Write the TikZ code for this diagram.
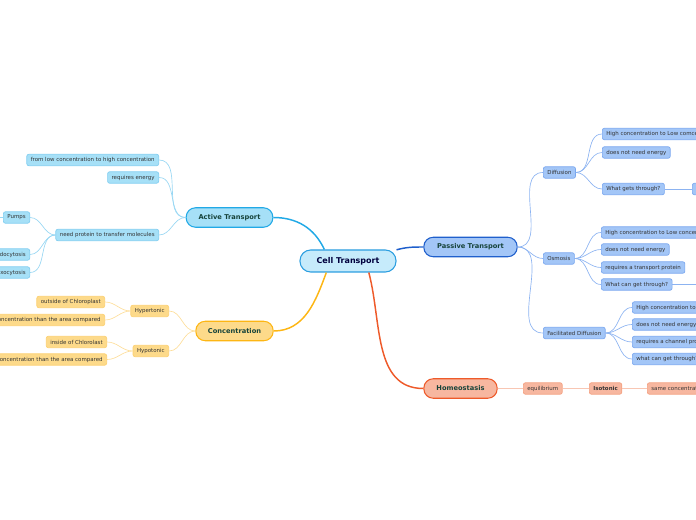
\documentclass[tikz,border=0pt]{standalone}
\usepackage{fontspec}
\setmainfont{DejaVu Sans}
\usetikzlibrary{positioning}
\definecolor{ctfill}{HTML}{C6EBFB}\definecolor{ctline}{HTML}{2B9EE0}
\definecolor{atfill}{HTML}{A6E0F7}\definecolor{atline}{HTML}{21A9E6}\definecolor{atleaf}{HTML}{80CDF0}
\definecolor{ptfill}{HTML}{A3C6F7}\definecolor{ptline}{HTML}{1F5FCC}\definecolor{ptleaf}{HTML}{78A6EF}
\definecolor{cofill}{HTML}{FDDA8A}\definecolor{coline}{HTML}{FDB614}\definecolor{coleaf}{HTML}{FCD070}
\definecolor{hofill}{HTML}{F7B7A0}\definecolor{holine}{HTML}{EE5A2A}\definecolor{holeaf}{HTML}{F4A080}
\definecolor{brtext}{HTML}{16433A}
\tikzset{
  x=0.75pt,y=-0.75pt,
  leaf/.style={draw,rounded corners=1.5pt,line width=0.5pt,inner xsep=3pt,inner ysep=0pt,
    minimum height=8.6pt,text=black!80,font=\fontsize{4.1}{5}\selectfont},
  branch/.style={draw,rounded corners=7pt,line width=0.8pt,minimum height=14.6pt,
    text=brtext,font=\bfseries\fontsize{5}{6}\selectfont},
  aleaf/.style={leaf,fill=atfill,draw=atleaf},
  pleaf/.style={leaf,fill=ptfill,draw=ptleaf},
  cleaf/.style={leaf,fill=cofill,draw=coleaf},
  hleaf/.style={leaf,fill=hofill,draw=holeaf},
  alink/.style={draw=atleaf!80,line width=0.5pt},
  plink/.style={draw=ptleaf!85,line width=0.5pt},
  clink/.style={draw=coleaf!70,line width=0.5pt},
  hlink/.style={draw=holeaf!60,line width=0.9pt},
}
\begin{document}
\begin{tikzpicture}
    \useasboundingbox (0,0) rectangle (696,520);
    \clip (0,0) rectangle (696,520);
    \node[draw=ctline,fill=ctfill,rounded corners=8pt,line width=0.8pt,minimum width=72pt,minimum height=16.5pt,
      text=black!20!blue!30!black,font=\bfseries\fontsize{6}{7}\selectfont] (ct) at (348,261) {Cell Transport};
    \node[branch,fill=ptfill,draw=ptline,minimum width=70pt] (pt) at (470.5,247) {Passive Transport};
    \node[branch,fill=atfill,draw=atline,minimum width=65pt] (at) at (229.5,217.5) {Active Transport};
    \node[branch,fill=cofill,draw=coline,minimum width=58pt] (co) at (234.5,331) {Concentration};
    \node[branch,fill=hofill,draw=holine,minimum width=55pt] (ho) at (460.5,388.5) {Homeostasis};
    \draw[ptline,line width=1.1pt] (ct.13) to[out=15,in=180] (pt.west);
    \draw[atline,line width=1.1pt] (ct.154) to[out=115,in=0] (at.east);
    \draw[coline,line width=1.1pt] (ct.208) to[out=250,in=0] (co.east);
    \draw[holine,line width=1.1pt] (ct.331) to[out=-75,in=180] (ho.west);

    \node[pleaf,anchor=west] (dif) at (543,172.5) {Diffusion};
    \node[pleaf,anchor=west] (osm) at (543,258.5) {Osmosis};
    \node[pleaf,anchor=west] (fac) at (543,333) {Facilitated Diffusion};
    \foreach \n in {dif,osm,fac} \draw[plink] (pt.east) to[out=0,in=180] (\n.west);

    \node[pleaf,anchor=west] (dif1) at (602,134) {High concentration to Low comcentration};
    \node[pleaf,anchor=west] (dif2) at (602,152.5) {does not need energy};
    \node[pleaf,anchor=west] (dif3) at (602,189) {What gets through?};
    \node[pleaf,anchor=west,minimum width=30pt] (dif4) at (692,189) {};
    \foreach \n in {dif1,dif2,dif3} \draw[plink] (dif.east) to[out=0,in=180] (\n.west);
    \draw[plink] (dif3) -- (dif4);

    \node[pleaf,anchor=west] (osm1) at (601,232.5) {High concentration to Low concentration};
    \node[pleaf,anchor=west] (osm2) at (601,249.5) {does not need energy};
    \node[pleaf,anchor=west] (osm3) at (601,267.5) {requires a transport protein};
    \node[pleaf,anchor=west] (osm4) at (601,284.5) {What can get through?};
    \coordinate (osm5) at (720,284.5);
    \foreach \n in {osm1,osm2,osm3,osm4} \draw[plink] (osm.east) to[out=0,in=180] (\n.west);
    \draw[plink] (osm4) -- (osm5);

    \node[pleaf,anchor=west] (fac1) at (632,307.5) {High concentration to Low concentration};
    \node[pleaf,anchor=west] (fac2) at (632,324.5) {does not need energy};
    \node[pleaf,anchor=west] (fac3) at (632,342) {requires a channel protein};
    \node[pleaf,anchor=west] (fac4) at (632,359) {what can get through?};
    \foreach \n in {fac1,fac2,fac3,fac4} \draw[plink] (fac.east) to[out=0,in=180] (\n.west);

    \node[aleaf,anchor=east] (at1) at (159,160) {from low concentration to high concentration};
    \node[aleaf,anchor=east] (at2) at (159,177.5) {requires energy};
    \node[aleaf,anchor=east] (at3) at (159,235) {need protein to transfer molecules};
    \foreach \n in {at1,at2,at3} \draw[alink] (at.west) to[out=180,in=0] (\n.east);
    \node[aleaf,anchor=east] (pump) at (30,217.5) {Pumps};
    \node[aleaf,anchor=east] (endo) at (30,254.5) {Endocytosis};
    \node[aleaf,anchor=east] (exo) at (30,272.5) {Exocytosis};
    \coordinate (pump1) at (-20,217.5);
    \foreach \n in {pump,endo,exo} \draw[alink] (at3.west) to[out=180,in=0] (\n.east);
    \draw[alink] (pump) -- (pump1);

    \node[cleaf,anchor=east] (hyper) at (169,311) {Hypertonic};
    \node[cleaf,anchor=east] (hypo) at (169,351) {Hypotonic};
    \foreach \n in {hyper,hypo} \draw[clink] (co.west) to[out=180,in=0] (\n.east);
    \node[cleaf,anchor=east] (hyper1) at (105,302) {outside of Chloroplast};
    \node[cleaf,anchor=east] (hyper2) at (105,320) {Higher concentration than the area compared};
    \node[cleaf,anchor=east] (hypo1) at (107,342) {inside of Chlorolast};
    \node[cleaf,anchor=east] (hypo2) at (107,359.5) {Lower concentration than the area compared};
    \foreach \n in {hyper1,hyper2} \draw[clink] (hyper.west) to[out=180,in=0] (\n.east);
    \foreach \n in {hypo1,hypo2} \draw[clink] (hypo.west) to[out=180,in=0] (\n.east);

    \node[hleaf,anchor=west] (equi) at (523,388.5) {equilibrium};
    \node[hleaf,anchor=west,font=\bfseries\fontsize{4.1}{5}\selectfont] (iso) at (589,388.5) {Isotonic};
    \node[hleaf,anchor=west] (same) at (647,388.5) {same concentration};
    \draw[hlink] (ho) -- (equi) (equi) -- (iso) (iso) -- (same);
\end{tikzpicture}
\end{document}
